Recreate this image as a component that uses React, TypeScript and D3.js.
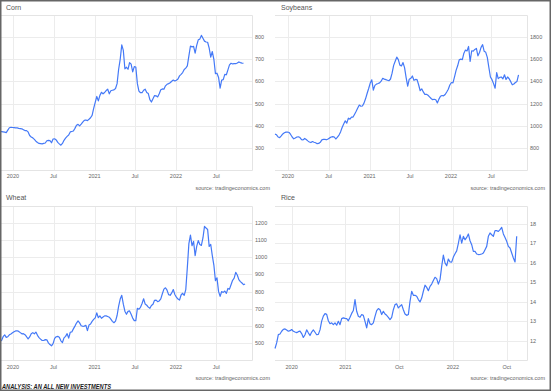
import React from "react";
import { scaleLinear, scaleTime, line } from "d3";

// weekly closes, first week 2019-11-04
const seriesStart = new Date(2019, 10, 4);
const timeDomain = [new Date(2019, 10, 4), new Date(2022, 11, 8)];
const timeTicks = [new Date(2020, 0, 1), new Date(2020, 6, 1), new Date(2021, 0, 1), new Date(2021, 6, 1), new Date(2022, 0, 1), new Date(2022, 6, 1)];
const timeTickLabels = ["2020", "Jul", "2021", "Jul", "2022", "Jul"];

const cornValues = [
  374, 373, 372, 371, 369, 380, 391, 393, 392, 391, 390, 390, 388, 387, 386, 382, 378, 378, 372, 356,
  349, 345, 338, 330, 324, 320, 319, 318, 320, 322, 332, 334, 333, 323, 340, 341, 336, 325, 318, 312,
  320, 334, 344, 352, 358, 372, 374, 376, 388, 402, 406, 399, 407, 416, 424, 426, 423, 429, 436, 447,
  478, 505, 532, 512, 537, 551, 544, 550, 559, 565, 544, 558, 560, 562, 568, 590, 655, 700, 765, 740,
  657, 664, 655, 685, 678, 643, 667, 665, 590, 556, 549, 549, 560, 565, 550, 545, 518, 507, 522, 536,
  535, 530, 544, 562, 566, 565, 580, 587, 590, 594, 601, 606, 602, 605, 611, 625, 632, 640, 654, 660,
  670, 715, 760, 756, 758, 728, 763, 788, 791, 808, 795, 782, 778, 777, 750, 710, 735, 700, 635, 637,
  618, 570, 606, 608, 632, 630, 652, 675, 682, 679, 680, 680, 683, 688, 685, 683, 682
];

const soybeanValues = [
  924, 918, 898, 893, 908, 926, 936, 942, 943, 939, 921, 898, 882, 889, 898, 900, 893, 875, 872, 885,
  875, 863, 853, 848, 857, 851, 846, 838, 840, 850, 872, 876, 877, 873, 880, 890, 898, 902, 898, 880,
  898, 916, 944, 984, 1015, 1044, 1023, 1068, 1060, 1078, 1078, 1104, 1131, 1160, 1187, 1176, 1178, 1204, 1243, 1291,
  1336, 1385, 1414, 1322, 1364, 1376, 1381, 1387, 1402, 1428, 1421, 1416, 1411, 1406, 1422, 1475, 1545, 1583, 1619, 1597,
  1547, 1540, 1570, 1525, 1435, 1357, 1420, 1428, 1449, 1410, 1418, 1416, 1370, 1316, 1333, 1305, 1283, 1284, 1275, 1261,
  1246, 1235, 1239, 1234, 1206, 1240, 1266, 1273, 1270, 1282, 1305, 1330, 1368, 1390, 1387, 1442, 1500, 1541, 1595, 1601,
  1597, 1655, 1683, 1675, 1716, 1580, 1677, 1674, 1689, 1698, 1631, 1661, 1708, 1732, 1672, 1663, 1617, 1526, 1440, 1416,
  1380, 1339, 1480, 1425, 1437, 1440, 1423, 1460, 1418, 1440, 1424, 1398, 1370, 1377, 1390, 1400, 1460
];

const wheatValues = [
  510, 514, 536, 547, 532, 536, 547, 552, 559, 565, 570, 571, 567, 560, 553, 554, 548, 536, 523, 535,
  553, 560, 553, 563, 544, 531, 522, 514, 514, 519, 518, 500, 490, 483, 496, 526, 536, 538, 533, 512,
  502, 529, 538, 554, 528, 562, 564, 582, 598, 616, 628, 617, 600, 597, 598, 603, 572, 604, 610, 626,
  637, 646, 675, 647, 658, 644, 651, 658, 658, 654, 650, 639, 626, 618, 627, 660, 715, 756, 778, 726,
  685, 667, 684, 687, 667, 645, 630, 630, 702, 697, 708, 730, 758, 727, 720, 709, 702, 719, 726, 749,
  750, 741, 745, 757, 787, 814, 822, 808, 782, 778, 792, 812, 783, 767, 756, 750, 780, 790, 778, 811,
  940, 1080, 1130, 1068, 1093, 1010, 1064, 1098, 1075, 1070, 1113, 1181, 1171, 1163, 1064, 1075, 1010, 955, 864, 880,
  801, 772, 800, 795, 803, 789, 818, 814, 840, 866, 878, 912, 897, 870, 858, 850, 840, 844
];

const riceValues = [
  11.59, 11.88, 12.31, 12.34, 12.48, 12.58, 12.6, 12.54, 12.48, 12.51, 12.57, 12.48, 12.44, 12.41, 12.46, 12.49, 12.36, 12.16, 12.3, 12.55,
  12.4, 12.26, 12.44, 12.55, 12.43, 12.3, 12.32, 12.55, 13.0, 13.26, 13.39, 13.35, 13.02, 12.87, 12.91, 12.82, 12.91, 12.79, 12.99, 12.82,
  13.13, 13.17, 13.14, 13.13, 13.02, 13.2, 13.4, 13.55, 14.11, 13.51, 13.25, 13.2, 13.34, 13.3, 12.99, 12.65, 13.13, 12.86, 12.82, 12.91,
  13.25, 13.54, 13.65, 13.59, 13.34, 13.51, 13.37, 13.3, 13.2, 13.08, 13.2, 13.59, 13.85, 13.89, 13.68, 13.77, 13.85, 13.59, 13.37, 13.3,
  13.34, 14.02, 14.54, 14.33, 14.33, 14.28, 14.11, 13.99, 14.19, 14.54, 14.85, 14.74, 14.57, 14.79, 14.91, 15.09, 15.26, 15.19, 14.91, 15.14,
  15.82, 16.4, 16.0, 15.85, 16.2, 16.05, 16.04, 16.3, 16.47, 16.62, 17.0, 17.45, 17.02, 17.37, 17.19, 17.31, 17.49, 17.14, 16.94, 16.59,
  16.59, 16.46, 16.43, 16.44, 16.46, 16.51, 16.68, 16.85, 17.37, 17.54, 17.45, 17.37, 17.66, 17.66, 17.62, 17.71, 17.83, 17.49, 17.31, 17.11,
  16.85, 16.77, 16.51, 16.25, 16.05, 17.37
];
// rice chart uses its own (uneven) axis labels, placed by observation index
const riceTickIdx = [10, 42.25, 74.5, 106.75, 139];
const riceTickLabels = ["2020", "2021", "Oct", "2022", "Oct"];

const cornTicks = [300, 400, 500, 600, 700, 800];
const soybeanTicks = [800, 1000, 1200, 1400, 1600, 1800];
const wheatTicks = [500, 600, 700, 800, 900, 1000, 1100, 1200];
const riceTicks = [12, 13, 14, 15, 16, 17, 18];

const weekly = (vals: number[]) =>
  vals.map((v, i) => ({ x: new Date(seriesStart.getTime() + i * 7 * 86400000), v }));

const FONT = "'Liberation Sans', Arial, sans-serif";
const LINE = "#4479f7";
const GRID = "#ececec";
const PLOT_W = 252;

const rows = {
  top: { title: 10, plotTop: 15, plotBottom: 170, xLabel: 178, source: 190 },
  bottom: { title: 200, plotTop: 206, plotBottom: 360, xLabel: 369, source: 380 },
};

function Panel({ left, row, title, yDomain, yTicks, xScale, xTicks, xLabels, data }: any) {
  const y = scaleLinear().domain(yDomain).range([row.plotBottom, row.plotTop]);
  const path = line<any>()
    .x((d) => left + xScale(d.x))
    .y((d) => y(d.v))(data);
  return (
    <g>
      <text x={left + 6} y={row.title} fontSize={7} fill="#555" fontFamily={FONT}>{title}</text>
      {yTicks.map((t: number) => (
        <line key={"h" + t} x1={left} x2={left + PLOT_W} y1={Math.round(y(t)) + 0.5} y2={Math.round(y(t)) + 0.5} stroke={GRID} />
      ))}
      {xTicks.map((t: any, i: number) => (
        <line key={"v" + i} x1={Math.round(left + xScale(t)) + 0.5} x2={Math.round(left + xScale(t)) + 0.5} y1={row.plotTop} y2={row.plotBottom} stroke={GRID} />
      ))}
      <path d={`M${left},${row.plotTop + 0.5}H${left + PLOT_W + 0.5}V${row.plotBottom + 0.5}H${left}`} fill="none" stroke="#e4e4e4" />
      <path d={path || ""} fill="none" stroke={LINE} strokeWidth={1.2} strokeLinejoin="round" />
      {yTicks.map((t: number) => (
        <text key={"yl" + t} x={left + 255} y={y(t) + 2} fontSize={5.5} fill="#666" fontFamily={FONT}>{t}</text>
      ))}
      {xTicks.map((t: any, i: number) => (
        <text key={"xl" + i} x={left + xScale(t)} y={row.xLabel} fontSize={5.5} fill="#666" textAnchor="middle" fontFamily={FONT}>{xLabels[i]}</text>
      ))}
      <text x={left + 270} y={row.source} fontSize={5.5} fill="#666" textAnchor="end" fontFamily={FONT}>source: tradingeconomics.com</text>
    </g>
  );
}

export default function App() {
  const xTime = scaleTime().domain(timeDomain).range([0, PLOT_W]);
  const xRice = scaleLinear().domain([0, 145]).range([0, 241.7]);
  const riceData = riceValues.map((v, i) => ({ x: i, v }));
  return (
    <svg width={551} height={391} style={{ position: "absolute", left: 0, top: 0, background: "#fff" }}>
      <rect x={0} y={0} width={551} height={391} fill="#fff" />
      <Panel left={0} row={rows.top} title="Corn" yDomain={[200, 900]} yTicks={cornTicks}
        xScale={xTime} xTicks={timeTicks} xLabels={timeTickLabels} data={weekly(cornValues)} />
      <Panel left={275} row={rows.top} title="Soybeans" yDomain={[600, 2000]} yTicks={soybeanTicks}
        xScale={xTime} xTicks={timeTicks} xLabels={timeTickLabels} data={weekly(soybeanValues)} />
      <Panel left={0} row={rows.bottom} title="Wheat" yDomain={[400, 1300]} yTicks={wheatTicks}
        xScale={xTime} xTicks={timeTicks} xLabels={timeTickLabels} data={weekly(wheatValues)} />
      <Panel left={275} row={rows.bottom} title="Rice" yDomain={[11, 18.93]} yTicks={riceTicks}
        xScale={xRice} xTicks={riceTickIdx} xLabels={riceTickLabels} data={riceData} />
      <text x={2} y={389} fontSize={6.8} fontWeight="bold" fontStyle="italic" fill="#1a1a1a" fontFamily={FONT}
        textLength={109} lengthAdjust="spacingAndGlyphs">ANALYSIS: AN ALL NEW INVESTMENTS</text>
      <rect x={0.75} y={0.75} width={549.5} height={389.5} fill="none" stroke="#666" strokeWidth={1.5} />
    </svg>
  );
}
